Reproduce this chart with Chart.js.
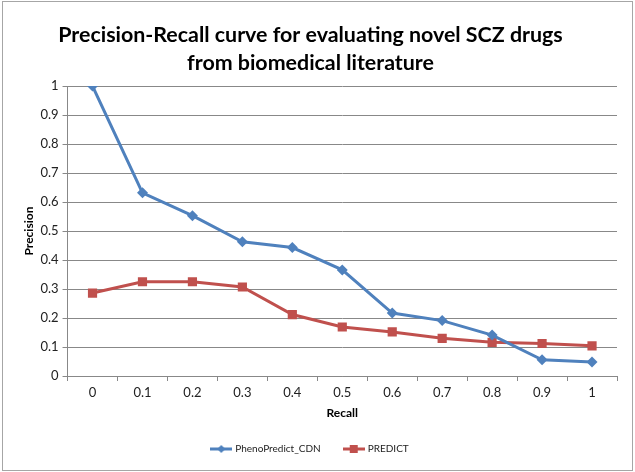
<!DOCTYPE html>
<html>
<head>
<meta charset="utf-8">
<script src="https://cdn.jsdelivr.net/npm/chart.js@4"></script>
<style>
  body { margin: 0; background: #fff; }
  #wrap { position: absolute; left: 2px; top: 1px; width: 629px; height: 468px; border: 1px solid #a6a6a6; }
  #chartPR { position: absolute; left: -3px; top: -2px; }
</style>
</head>
<body>
<div id="wrap"><canvas id="chartPR" width="635" height="472"></canvas></div>
<script>
// Data
const recallLabels = ["0", "0.1", "0.2", "0.3", "0.4", "0.5", "0.6", "0.7", "0.8", "0.9", "1"];
const phenoPredictCdn = [1.0, 0.632, 0.553, 0.463, 0.443, 0.366, 0.217, 0.191, 0.141, 0.056, 0.048];
const predict = [0.286, 0.325, 0.325, 0.307, 0.212, 0.169, 0.152, 0.130, 0.116, 0.112, 0.104];

const blue = "#4F81BD";
const red = "#C0504D";
const fontFam = "Lato, 'Open Sans', sans-serif";

// legend swatch: line with marker on it, like Excel
function legendSwatch(color, shape) {
  const c = document.createElement("canvas");
  c.width = 22;
  c.height = 10;
  const g = c.getContext("2d");
  g.strokeStyle = color;
  g.lineWidth = 3;
  g.beginPath();
  g.moveTo(0, 5);
  g.lineTo(22, 5);
  g.stroke();
  g.fillStyle = color;
  if (shape === "diamond") {
    g.beginPath();
    g.moveTo(11, 1);
    g.lineTo(15, 5);
    g.lineTo(11, 9);
    g.lineTo(7, 5);
    g.closePath();
    g.fill();
  } else {
    g.fillRect(7, 1, 8, 8);
  }
  return c;
}

const ctxPR = document.getElementById("chartPR").getContext("2d");

const dataPR = {
  labels: recallLabels,
  datasets: [
    {
      label: "PhenoPredict_CDN",
      data: phenoPredictCdn,
      borderColor: blue,
      backgroundColor: blue,
      pointStyle: "rectRot",
      pointRadius: 5.5,
      legendImg: legendSwatch(blue, "diamond"),
    },
    {
      label: "PREDICT",
      data: predict,
      borderColor: red,
      backgroundColor: red,
      pointStyle: "rect",
      pointRadius: 6.5,
      legendImg: legendSwatch(red, "square"),
    },
  ],
};

const tickFont = { family: fontFam, size: 13 };

const optionsPR = {
  responsive: false,
  animation: false,
  elements: {
    line: { borderWidth: 3, tension: 0 },
    point: { borderWidth: 0 },
  },
  layout: { padding: { left: 4, right: 18, top: 0, bottom: 8 } },
  scales: {
    x: {
      offset: true,
      grid: {
        offset: true,
        drawOnChartArea: false,
        drawTicks: true,
        tickLength: 5,
        color: "#888",
      },
      border: { color: "#888", width: 1 },
      ticks: { color: "#222", font: tickFont, padding: 4 },
      title: {
        display: true,
        text: "Recall",
        color: "#000",
        font: { family: fontFam, size: 12, weight: "bold" },
        padding: { top: 1, bottom: 0 },
      },
    },
    y: {
      min: 0,
      max: 1,
      ticks: {
        stepSize: 0.1,
        color: "#222",
        font: tickFont,
        padding: 4,
        callback: (v) => String(Number(v.toFixed(1))),
      },
      grid: { color: "#888", tickLength: 5 },
      border: { color: "#888", width: 1 },
      title: {
        display: true,
        text: "Precision",
        color: "#000",
        font: { family: fontFam, size: 12, weight: "bold" },
        padding: { top: 18, bottom: 0 },
      },
    },
  },
  plugins: {
    title: {
      display: true,
      text: ["Precision-Recall curve for evaluating novel SCZ drugs", "from biomedical literature"],
      color: "#000",
      font: { family: fontFam, size: 21.4, weight: "bold", lineHeight: 1.31 },
      padding: { top: 21, bottom: 9 },
    },
    legend: {
      position: "bottom",
      labels: {
        usePointStyle: true,
        pointStyleWidth: 18,
        color: "#222",
        font: { family: fontFam, size: 10 },
        padding: 24,
        generateLabels: (chart) =>
          chart.data.datasets.map((ds, i) => ({
            text: ds.label,
            pointStyle: ds.legendImg,
            fontColor: "#222",
            datasetIndex: i,
            hidden: false,
          })),
      },
    },
    tooltip: { enabled: false },
  },
};

new Chart(ctxPR, { type: "line", data: dataPR, options: optionsPR });
</script>
</body>
</html>
